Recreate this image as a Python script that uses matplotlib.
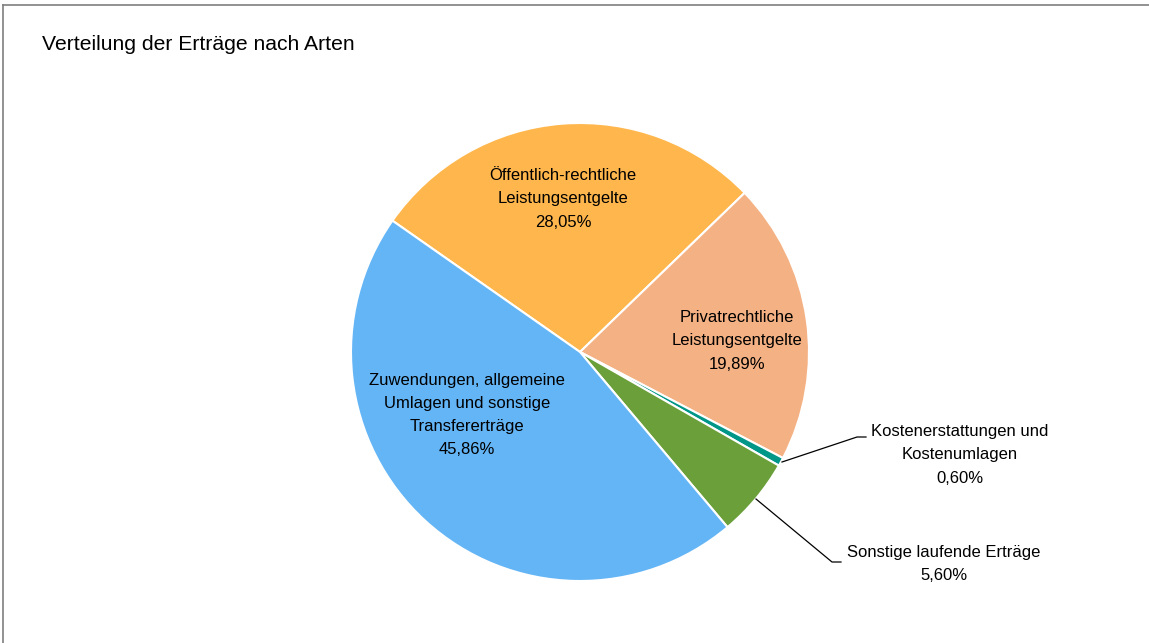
import matplotlib.pyplot as plt
from matplotlib.lines import Line2D

plt.rcParams['font.family'] = ['Liberation Sans', 'DejaVu Sans']

# Ertragsarten und Anteile in Prozent
arten = ['Öffentlich-rechtliche\nLeistungsentgelte',
         'Privatrechtliche\nLeistungsentgelte',
         'Kostenerstattungen und\nKostenumlagen',
         'Sonstige laufende Erträge',
         'Zuwendungen, allgemeine\nUmlagen und sonstige\nTransfererträge']
anteile = [28.05, 19.89, 0.60, 5.60, 45.86]
farben = ['#FFB74D', '#F4B183', '#009688', '#6A9F3A', '#64B5F6']

W, H = 1149, 643
fig = plt.figure(figsize=(W / 100, H / 100), dpi=100)
ax = fig.add_axes([0, 0, 1, 1])
ax.set_aspect('equal')

# Mittelpunkt und Radius in Pixel (y von oben gezählt)
cx, cy, r = 580, 352, 229
ax.pie(anteile, colors=farben, startangle=145, counterclock=False,
       center=(cx, H - cy), radius=r, frame=True,
       wedgeprops=dict(edgecolor='white', linewidth=1.5))
ax.set_xlim(0, W)
ax.set_ylim(0, H)
ax.axis('off')

# Beschriftungen (Position in Pixel)
pos = [(563, 199), (737, 341), (960, 455), (944, 564), (467, 415)]
for name, wert, (x, y) in zip(arten, anteile, pos):
    txt = f'{name}\n{wert:.2f}%'.replace('.', ',')
    ax.text(x, H - y, txt, ha='center', va='center', fontsize=12,
            linespacing=1.68, color='black')

# Führungslinien für die kleinen Segmente
ax.plot([782, 857, 866], [H - 462, H - 437, H - 437], color='black', lw=0.9)
ax.plot([756, 832, 841], [H - 499, H - 562, H - 562], color='black', lw=0.9)

fig.text(42 / W, 1 - 45 / H, 'Verteilung der Erträge nach Arten',
         fontsize=15.2, ha='left', va='center')

# Rahmen oben und links
fig.add_artist(Line2D([3 / W, 3 / W], [0, 1 - 5 / H], color='#7f7f7f', lw=1.2))
fig.add_artist(Line2D([3 / W, 1], [1 - 5 / H, 1 - 5 / H], color='#7f7f7f', lw=1.2))

fig.savefig('out.png', dpi=100)
